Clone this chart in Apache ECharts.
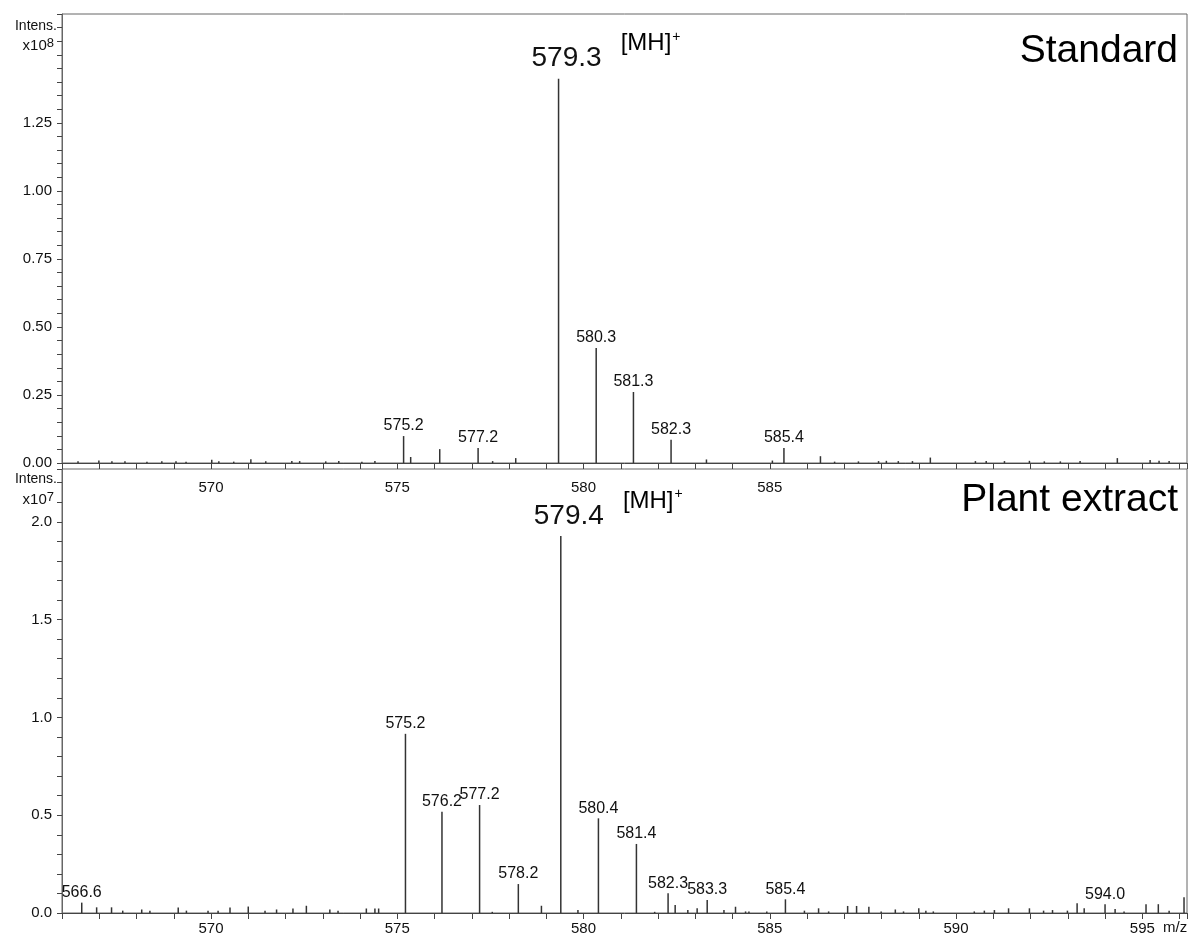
<!DOCTYPE html>
<html>
<head>
<meta charset="utf-8">
<title>Mass spectra</title>
<script src="https://cdn.jsdelivr.net/npm/echarts@6/dist/echarts.min.js"></script>
<style>
  html, body { margin: 0; padding: 0; background: #fff; }
  #chart { width: 1190px; height: 944px; }
</style>
</head>
<body>
<div id="chart"></div>
<script>
// Standard, intensity in x10^8
var topMz = [575.17, 577.17, 579.33, 580.34, 581.34, 582.35, 585.38];
var topInt = [0.099, 0.055, 1.412, 0.423, 0.261, 0.085, 0.055];
var topLbl = ['575.2', '577.2', '579.3', '580.3', '581.3', '582.3', '585.4'];
var topNoiseMz = [566.43, 566.99, 567.34, 567.69, 568.28, 568.68, 569.06, 569.33, 570.02, 570.21,
  570.61, 571.07, 571.47, 572.17, 572.38, 573.08, 573.43, 574.05, 574.40, 575.36,
  576.14, 577.56, 578.18, 583.30, 585.07, 586.36, 586.74, 587.38, 587.92, 588.13,
  588.45, 588.83, 589.31, 590.52, 590.81, 591.30, 591.97, 592.37, 592.80, 593.33,
  594.33, 595.21, 595.45, 595.72];
var topNoiseInt = [0.006, 0.009, 0.006, 0.006, 0.005, 0.006, 0.006, 0.005, 0.012, 0.006,
  0.005, 0.014, 0.006, 0.007, 0.007, 0.006, 0.007, 0.005, 0.007, 0.022,
  0.051, 0.007, 0.018, 0.013, 0.009, 0.025, 0.005, 0.006, 0.007, 0.008,
  0.007, 0.007, 0.020, 0.007, 0.007, 0.007, 0.008, 0.006, 0.006, 0.007,
  0.018, 0.011, 0.008, 0.007];

// Plant extract, intensity in x10^7
var botMz = [566.53, 575.22, 576.20, 577.21, 578.25, 579.39, 580.40, 581.42, 582.27, 583.32, 585.42, 594.00];
var botInt = [0.053, 0.916, 0.518, 0.552, 0.148, 1.928, 0.484, 0.353, 0.101, 0.066, 0.070, 0.045];
var botLbl = ['566.6', '575.2', '576.2', '577.2', '578.2', '579.4', '580.4', '581.4', '582.3', '583.3', '585.4', '594.0'];
var botNoiseMz = [566.93, 567.33, 567.63, 568.14, 568.36, 569.12, 569.34, 569.92, 570.19, 570.51,
  571.00, 571.45, 571.76, 572.20, 572.56, 573.19, 573.41, 574.17, 574.40, 574.50,
  577.55, 578.87, 579.85, 581.91, 582.46, 582.80, 583.05, 583.77, 584.08, 584.35,
  584.44, 584.92, 585.93, 586.31, 586.58, 587.09, 587.33, 587.66, 587.99, 588.37,
  588.59, 589.00, 589.19, 589.39, 590.49, 590.76, 591.03, 591.41, 591.97, 592.35,
  592.59, 592.99, 593.25, 593.44, 594.27, 594.51, 595.10, 595.43, 595.72, 596.12];
var botNoiseInt = [0.029, 0.029, 0.012, 0.018, 0.012, 0.028, 0.012, 0.012, 0.012, 0.028,
  0.033, 0.012, 0.018, 0.023, 0.037, 0.018, 0.012, 0.023, 0.023, 0.023,
  0.006, 0.037, 0.015, 0.006, 0.041, 0.015, 0.024, 0.015, 0.032, 0.008,
  0.008, 0.008, 0.012, 0.024, 0.008, 0.036, 0.036, 0.032, 0.008, 0.018,
  0.008, 0.024, 0.012, 0.008, 0.008, 0.012, 0.015, 0.024, 0.024, 0.012,
  0.015, 0.012, 0.050, 0.024, 0.020, 0.008, 0.045, 0.045, 0.012, 0.080];

var font = "'Liberation Sans', Arial, sans-serif";
var ink = '#111';

function peakData(mz, it, lbl, nmz, nit) {
  var main = it.indexOf(Math.max.apply(null, it));
  var out = mz.map(function (m, i) {
    var d = {value: [m, it[i]], name: lbl[i]};
    if (i === main) {
      d.label = {fontSize: 28, offset: [8, 0], distance: 6};
    }
    return d;
  });
  nmz.forEach(function (m, i) {
    out.push({value: [m, nit[i]], name: ''});
  });
  return out;
}

function mainPeak(mz, it) {
  var i = it.indexOf(Math.max.apply(null, it));
  return [[mz[i], it[i]]];
}

function xAxis(grid, maxLabel, margin) {
  return {
    type: 'value', gridIndex: grid, min: 566, max: 596.2, interval: 1,
    axisLine: {lineStyle: {color: '#444', width: 1}},
    axisTick: {length: 6, lineStyle: {color: '#444'}},
    axisLabel: {
      margin: margin, color: ink, fontFamily: font, fontSize: 15,
      formatter: function (v) {
        var r = Math.round(v);
        return (Math.abs(v - r) < 1e-6 && r % 5 === 0 && r <= maxLabel) ? String(r) : '';
      }
    },
    splitLine: {show: false}
  };
}

function yAxis(grid, max, step, major, last, dec) {
  return {
    type: 'value', gridIndex: grid, min: 0, max: max, interval: step,
    axisLine: {show: true, lineStyle: {color: '#666'}},
    axisTick: {show: true, length: 5, lineStyle: {color: '#444'}},
    axisLabel: {
      margin: 10, color: ink, fontFamily: font, fontSize: 15,
      formatter: function (v) {
        var k = Math.round(v / step);
        var m = Math.round(major / step);
        return (Math.abs(v - k * step) < 1e-6 && k % m === 0 && v <= last + 1e-6) ? v.toFixed(dec) : '';
      }
    },
    splitLine: {show: false}
  };
}

function stickSeries(x, y, data) {
  return {
    type: 'bar', xAxisIndex: x, yAxisIndex: y, barWidth: 1.5,
    itemStyle: {color: '#333'},
    label: {
      show: true, position: 'top', distance: 2, color: ink, fontFamily: font, fontSize: 16,
      formatter: function (p) { return p.name; }
    },
    data: data
  };
}

function mhSeries(x, y, data) {
  return {
    type: 'scatter', xAxisIndex: x, yAxisIndex: y, symbolSize: 0, silent: true,
    itemStyle: {opacity: 1},
    label: {
      show: true, position: 'inside', offset: [92, -35], color: '#000', fontFamily: font,
      formatter: '{a|[MH]}{b|+}',
      rich: {
        a: {fontSize: 24, fontFamily: font, color: '#000'},
        b: {fontSize: 14, fontFamily: font, color: '#000', verticalAlign: 'top', padding: [0, 0, 14, 1]}
      }
    },
    data: data
  };
}

var option = {
  animation: false,
  backgroundColor: '#fff',
  grid: [
    {left: 62, top: 14, width: 1126, height: 449, show: true, borderColor: '#666', borderWidth: 1},
    {left: 62, top: 469, width: 1126, height: 444, show: true, borderColor: '#666', borderWidth: 1}
  ],
  xAxis: [xAxis(0, 585, 17), xAxis(1, 595, 8)],
  yAxis: [yAxis(0, 1.65, 0.05, 0.25, 1.25, 2), yAxis(1, 2.27, 0.1, 0.5, 2.0, 1)],
  series: [
    stickSeries(0, 0, peakData(topMz, topInt, topLbl, topNoiseMz, topNoiseInt)),
    stickSeries(1, 1, peakData(botMz, botInt, botLbl, botNoiseMz, botNoiseInt)),
    mhSeries(0, 0, mainPeak(topMz, topInt)),
    mhSeries(1, 1, mainPeak(botMz, botInt))
  ],
  graphic: [
    {type: 'text', right: 12, top: 32, style: {text: 'Standard', font: '39px ' + font, fill: '#000'}},
    {type: 'text', right: 12, top: 481, style: {text: 'Plant extract', font: '39px ' + font, fill: '#000'}},
    {type: 'text', x: 57, y: 26, style: {text: 'Intens.', font: '14px ' + font, fill: ink, align: 'right', verticalAlign: 'middle'}},
    {type: 'text', x: 54, y: 46, style: {text: 'x10{s|8}', font: '15px ' + font, fill: ink, align: 'right', verticalAlign: 'middle',
      rich: {s: {fontSize: 13, fontFamily: font, verticalAlign: 'top', padding: [0, 0, 6, 0]}}}},
    {type: 'text', x: 57, y: 479, style: {text: 'Intens.', font: '14px ' + font, fill: ink, align: 'right', verticalAlign: 'middle'}},
    {type: 'text', x: 54, y: 500, style: {text: 'x10{s|7}', font: '15px ' + font, fill: ink, align: 'right', verticalAlign: 'middle',
      rich: {s: {fontSize: 13, fontFamily: font, verticalAlign: 'top', padding: [0, 0, 6, 0]}}}},
    {type: 'text', x: 1163, y: 928, style: {text: 'm/z', font: '15px ' + font, fill: ink, align: 'left', verticalAlign: 'middle'}}
  ]
};

var myChart = echarts.init(document.getElementById('chart'));
myChart.setOption(option);
</script>
</body>
</html>
